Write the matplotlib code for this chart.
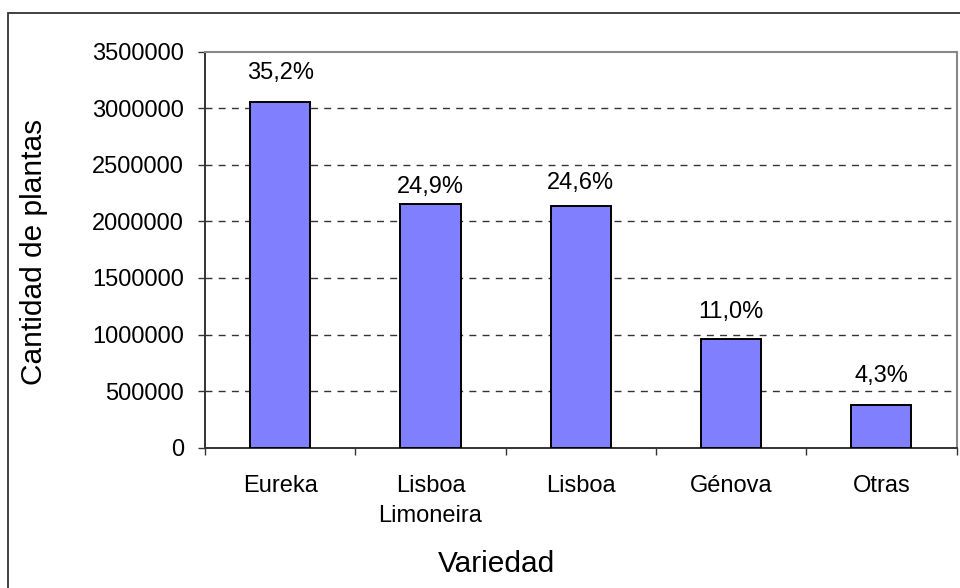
import matplotlib
matplotlib.use("Agg")
import matplotlib.pyplot as plt
import numpy as np
from matplotlib.patches import Rectangle

categories = ["Eureka", "Lisboa\nLimoneira", "Lisboa", "Génova", "Otras"]
values = [3054000, 2155000, 2132000, 958000, 375000]
pct_labels = ["35,2%", "24,9%", "24,6%", "11,0%", "4,3%"]
yticks = [0, 500000, 1000000, 1500000, 2000000, 2500000, 3000000, 3500000]
label_offsets_pt = [16.6, 7.7, 12.5, 15.1, 17.0]

plt.rcParams['font.family'] = ['Liberation Sans', 'DejaVu Sans']

fig = plt.figure(figsize=(9.6, 5.88), dpi=100)
ax = fig.add_axes([205/960, 1-447.7/588, (956.5-205)/960, (447.7-51.5)/588])

x = np.arange(len(categories))
ax.bar(x, values, width=0.4, color="#8080FF", edgecolor="black", linewidth=1.4, zorder=3)

for xi, v, lab, off in zip(x, values, pct_labels, label_offsets_pt):
    ax.annotate(lab, (xi, v), xytext=(0, off), textcoords="offset points",
                ha="center", va="baseline", fontsize=17)

ax.set_xlim(-0.5, len(categories) - 0.5)
ax.set_ylim(0, 3500000)
ax.set_yticks(yticks)
ax.set_yticklabels([str(t) for t in yticks], fontsize=17)
ax.tick_params(axis="y", direction="out", length=5, width=1, colors="#333333", pad=10, labelcolor="black")

ax.set_xticks(x)
ax.set_xticklabels(categories, fontsize=17, linespacing=1.45)
ax.tick_params(axis="x", which="major", length=0, pad=20, labelcolor="black")
ax.set_xticks(np.arange(len(categories) + 1) - 0.5, minor=True)
ax.tick_params(axis="x", which="minor", direction="out", length=5, width=1, colors="#333333")

for t in yticks[1:-1]:
    ax.axhline(t, color="#333333", linewidth=1, linestyle=(0, (5, 4.5)), zorder=1)

ax.spines["left"].set_color("#333333")
ax.spines["bottom"].set_color("#333333")
ax.spines["left"].set_linewidth(1.4)
ax.spines["bottom"].set_linewidth(1.4)
ax.spines["top"].set_color("#888888")
ax.spines["right"].set_color("#888888")
ax.spines["top"].set_linewidth(1.5)
ax.spines["right"].set_linewidth(1.5)

fig.text(34/960, 1-252/588, "Cantidad de plantas", rotation=90, ha="center", va="center", fontsize=21.5)
fig.text(496/960, 1-564/588, "Variedad", ha="center", va="center", fontsize=21.5)

border = Rectangle((8/960, -0.1), 1.2, (1-12.7/588) + 0.1, transform=fig.transFigure,
                   fill=False, edgecolor="#333333", linewidth=1.3)
fig.patches.append(border)

fig.savefig("out.png", dpi=100)
